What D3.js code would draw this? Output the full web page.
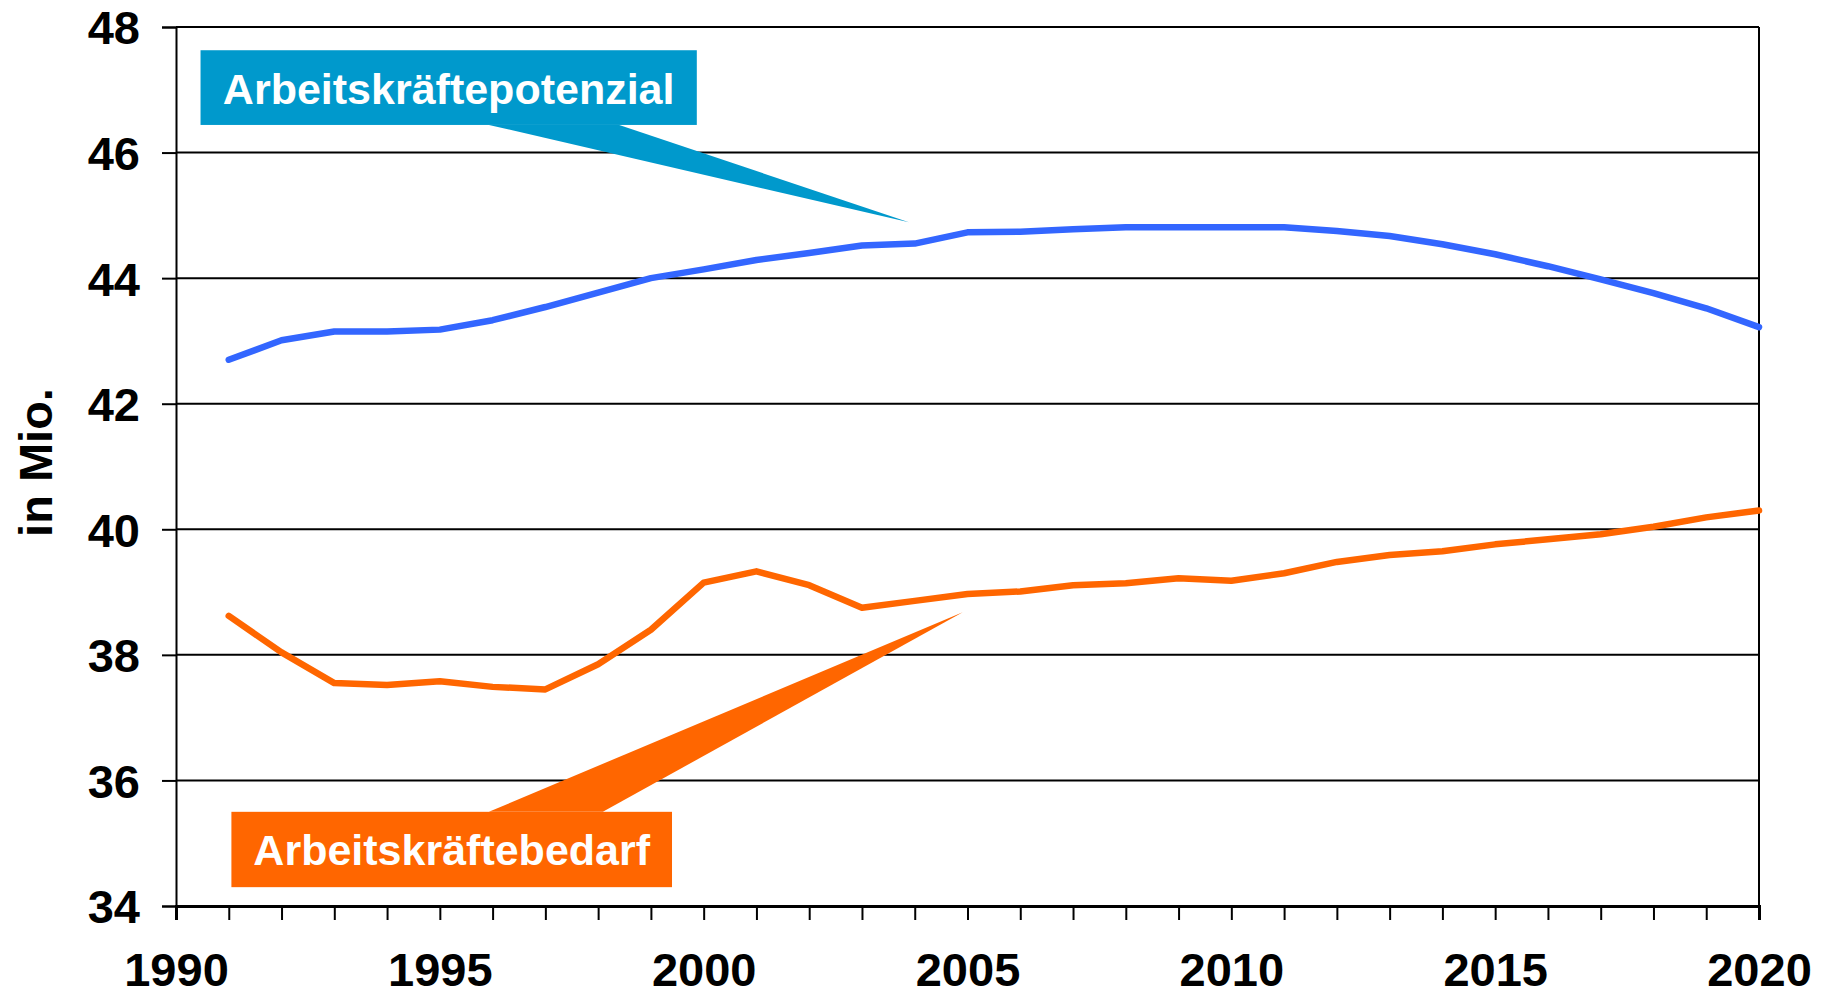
<!DOCTYPE html>
<html>
<head>
<meta charset="utf-8">
<script src="https://cdn.jsdelivr.net/npm/d3@7"></script>
<style>
  html, body { margin: 0; padding: 0; background: #fff; }
  svg { display: block; }
  text { font-family: "Liberation Sans", Arial, sans-serif; font-weight: bold; }
</style>
</head>
<body>
<script>
// ---- data ----
const years = d3.range(1991, 2021);
const potenzial = [42.70, 43.01, 43.15, 43.15, 43.18, 43.33, 43.54, 43.77, 44.00, 44.14,
                   44.29, 44.40, 44.52, 44.55, 44.73, 44.74, 44.78, 44.81, 44.81, 44.81,
                   44.81, 44.75, 44.67, 44.54, 44.38, 44.19, 43.98, 43.76, 43.52, 43.22];
const bedarf = [38.62, 38.04, 37.55, 37.52, 37.58, 37.49, 37.45, 37.85, 38.40, 39.15,
                39.33, 39.11, 38.75, 38.86, 38.97, 39.01, 39.11, 39.14, 39.22, 39.18,
                39.30, 39.48, 39.59, 39.65, 39.76, 39.84, 39.92, 40.04, 40.19, 40.30];
const yTicks = [34, 36, 38, 40, 42, 44, 46, 48];
const xTickLabels = [1990, 1995, 2000, 2005, 2010, 2015, 2020];
const seriesNames = ["Arbeitskräftepotenzial", "Arbeitskräftebedarf"];
const yTitle = "in Mio.";

// ---- layout ----
const W = 1827, H = 997;
const mLeft = 176, mRight = 1759, mTop = 27, mBottom = 906;

const x = d3.scaleLinear().domain([1990, 2020]).range([mLeft, mRight]);
const y = d3.scaleLinear().domain([34, 48]).range([mBottom, mTop]);

const svg = d3.select("body").append("svg").attr("width", W).attr("height", H);

// gridlines
svg.append("g").selectAll("line").data(yTicks.filter(v => v > 34)).join("line")
  .attr("x1", mLeft).attr("x2", mRight)
  .attr("y1", d => y(d)).attr("y2", d => y(d))
  .attr("stroke", "#000").attr("stroke-width", 2);

// right border
svg.append("line").attr("x1", mRight).attr("x2", mRight).attr("y1", mTop).attr("y2", mBottom)
  .attr("stroke", "#000").attr("stroke-width", 2);

// y axis
const yAxis = d3.axisLeft(y).tickValues(yTicks).tickSize(14).tickPadding(22).tickFormat(d3.format("d"));
const gy = svg.append("g").attr("transform", `translate(${mLeft},0)`).call(yAxis);
gy.select(".domain").attr("stroke", "#000").attr("stroke-width", 2);
gy.selectAll(".tick line").attr("stroke", "#000").attr("stroke-width", 2);
gy.selectAll(".tick text").attr("font-size", 47).attr("fill", "#000")
  .attr("font-family", "Liberation Sans, Arial, sans-serif").attr("font-weight", "bold")
  .attr("dy", "0.36em");

// x axis
const xAxis = d3.axisBottom(x).tickValues(d3.range(1990, 2021)).tickSize(14)
  .tickFormat(d => xTickLabels.includes(d) ? String(d) : "");
const gx = svg.append("g").attr("transform", `translate(0,${mBottom})`).call(xAxis);
gx.select(".domain").attr("stroke", "#000").attr("stroke-width", 3);
gx.selectAll(".tick line").attr("stroke", "#000").attr("stroke-width", 2);
gx.selectAll(".tick text").attr("font-size", 47).attr("fill", "#000")
  .attr("font-family", "Liberation Sans, Arial, sans-serif").attr("font-weight", "bold")
  .attr("y", 80).attr("dy", 0);

// y title
svg.append("text")
  .attr("transform", `translate(52,${(mTop + mBottom) / 2 - 4}) rotate(-90)`)
  .attr("text-anchor", "middle").attr("font-size", 47).attr("fill", "#000")
  .text(yTitle);

// lines
const line = d3.line().x((d, i) => x(years[i])).y(d => y(d));
svg.append("path").datum(potenzial).attr("d", line)
  .attr("fill", "none").attr("stroke", "#3366FF").attr("stroke-width", 6.5)
  .attr("stroke-linejoin", "round").attr("stroke-linecap", "round");
svg.append("path").datum(bedarf).attr("d", line)
  .attr("fill", "none").attr("stroke", "#FF6600").attr("stroke-width", 6.5)
  .attr("stroke-linejoin", "round").attr("stroke-linecap", "round");

// callouts (in data space)
const callouts = [
  { name: seriesNames[0], color: "#0099CC",
    box: [1990.465, 1999.87, 47.63, 46.44],   // x0, x1, yTop, yBottom
    base: [1995.93, 1998.4], baseAt: 46.44, apex: [2003.89, 44.89] },
  { name: seriesNames[1], color: "#FF6600",
    box: [1991.05, 1999.40, 35.50, 34.30],
    base: [1995.93, 1998.09], baseAt: 35.50, apex: [2004.91, 38.68] }
];

callouts.forEach(c => {
  const g = svg.append("g");
  g.append("polygon")
    .attr("points", [[x(c.base[0]), y(c.baseAt)], [x(c.base[1]), y(c.baseAt)], [x(c.apex[0]), y(c.apex[1])]]
      .map(p => p.join(",")).join(" "))
    .attr("fill", c.color);
  g.append("rect")
    .attr("x", x(c.box[0])).attr("y", y(c.box[2]))
    .attr("width", x(c.box[1]) - x(c.box[0])).attr("height", y(c.box[3]) - y(c.box[2]))
    .attr("fill", c.color);
  g.append("text")
    .attr("x", (x(c.box[0]) + x(c.box[1])) / 2)
    .attr("y", (y(c.box[2]) + y(c.box[3])) / 2 + 16)
    .attr("text-anchor", "middle").attr("font-size", 43).attr("fill", "#fff")
    .text(c.name);
});
</script>
</body>
</html>
